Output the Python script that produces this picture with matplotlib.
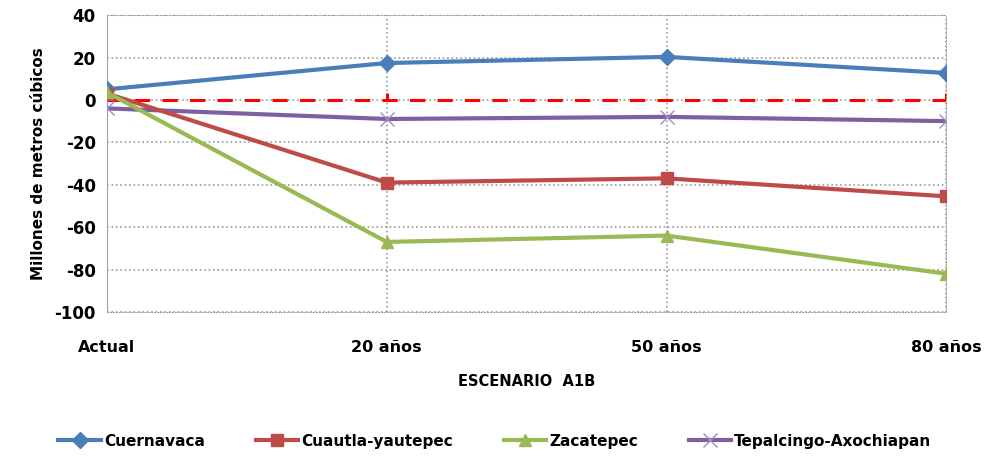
import matplotlib.pyplot as plt

plt.rcParams["axes.unicode_minus"] = False

# ========== data ==========
categories = ["Actual", "20 años", "50 años", "80 años"]
cuernavaca = [5, 17.4, 20.3, 12.7]
cuautla = [3, -39, -37, -45.5]
zacatepec = [3.5, -67, -64, -82]
tepalcingo = [-4, -9, -8, -10]
referencia = [0, 0, 0, 0]

fig = plt.figure(figsize=(9.9, 4.58), dpi=100)
ax = fig.add_axes([0.108, 0.319, 0.848, 0.648])

x = list(range(len(categories)))

ax.plot(x, referencia, color="#FF0000", lw=2.2, dashes=(5, 4), marker=2,
        markersize=5, markeredgewidth=2.2, markevery=[1, 3], zorder=2)
ax.plot(x, cuernavaca, color="#4A7EBB", lw=3, marker="D", markersize=8,
        label="Cuernavaca", zorder=4)
ax.plot(x, cuautla, color="#BE4B48", lw=3, marker="s", markersize=8,
        label="Cuautla-yautepec", zorder=4)
ax.plot(x, zacatepec, color="#98B954", lw=3, marker="^", markersize=9,
        label="Zacatepec", zorder=5)
ax.plot(x, tepalcingo, color="#7D60A0", lw=3, marker="x", markersize=10,
        markeredgewidth=1, markeredgecolor="#9C8CC8",
        label="Tepalcingo-Axochiapan", zorder=3)

ax.set_xlim(0, 3)
ax.set_ylim(-100, 40)
ax.set_yticks(range(-100, 41, 20))
ax.set_xticks(x)
ax.set_xticklabels(categories, fontsize=11.5, fontweight="bold")
ax.tick_params(axis="x", length=0, pad=20)
ax.tick_params(axis="y", length=0, pad=8, labelsize=12)
for lbl in ax.get_yticklabels():
    lbl.set_fontweight("bold")

ax.grid(True, color="#9A9A9A", linestyle=":", lw=1.2)
for s in ax.spines.values():
    s.set_color("#A0A0A0")
    s.set_linestyle(":")
ax.spines["left"].set_linestyle("-")

ax.set_ylabel("Millones de metros cúbicos", fontsize=11, fontweight="bold",
              labelpad=6)
ax.set_xlabel("ESCENARIO  A1B", fontsize=10.5, fontweight="bold", labelpad=14)

fig.legend(loc="center", bbox_to_anchor=(0.50, 0.037), ncol=4, frameon=False,
           prop={"size": 11, "weight": "bold"}, columnspacing=3.3,
           handlelength=2.8, handletextpad=0.2)

fig.savefig("out.png", dpi=100)
